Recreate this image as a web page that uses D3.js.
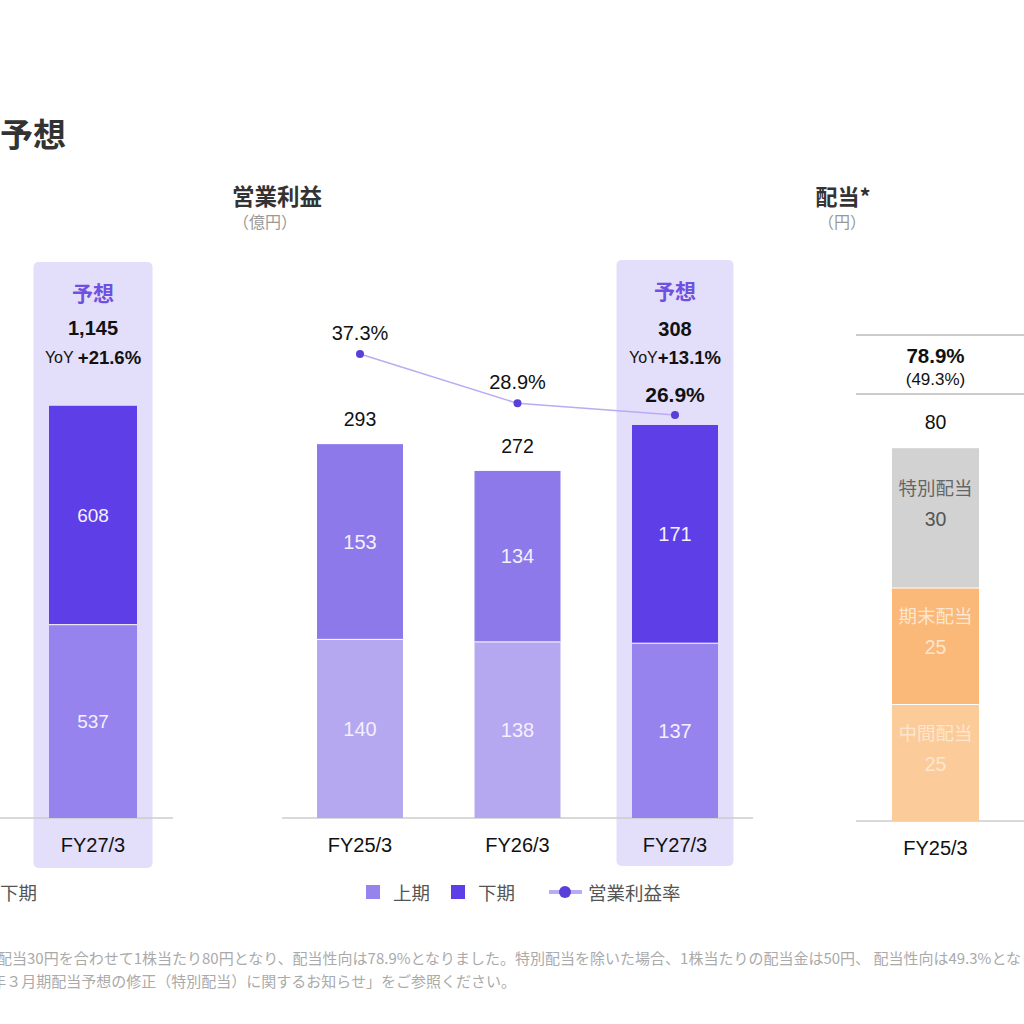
<!DOCTYPE html>
<html>
<head>
<meta charset="utf-8">
<script src="https://cdn.jsdelivr.net/npm/d3@7"></script>
<style>
  html, body { margin: 0; padding: 0; background: #fff; overflow: hidden; }
  svg text { font-family: "Liberation Sans", Arial, "Noto Sans CJK JP", sans-serif; }
  .jp { font-family: "Noto Sans CJK JP", "Noto Sans", sans-serif; }
</style>
</head>
<body>
<div id="chart"></div>
<script>
// ---- data ----
var salesCats = ['FY27/3'];
var salesH1 = [537];
var salesH2 = [608];
var salesTotal = ['1,145'];
var salesYoY = ['+21.6%'];

var opCats = ['FY25/3', 'FY26/3', 'FY27/3'];
var opH1 = [140, 138, 137];
var opH2 = [153, 134, 171];
var opTotal = [293, 272, 308];
var opMargin = [37.3, 28.9, 26.9];
var opForecast = [false, false, true];
var opYoY = '+13.1%';

var divCats = ['FY25/3'];
var divInterim = [25];
var divYearEnd = [25];
var divSpecial = [30];
var divTotal = [80];
var payoutRatio = ['78.9%'];
var payoutExSpecial = ['(49.3%)'];

var footnotes = [
    '特別配当30円を合わせて1株当たり80円となり、配当性向は78.9%となりました。特別配当を除いた場合、1株当たりの配当金は50円、 配当性向は49.3%となりました。',
    '2025年３月期配当予想の修正（特別配当）に関するお知らせ」をご参照ください。'
];

// ---- styles ----
var colors = {
    h1: '#b6a7f1',
    h2: '#8d79e9',
    h1Fc: '#9783ed',
    h2Fc: '#5e3ee6',
    highlight: '#e3defa',
    purpleText: '#6f50e0',
    line: '#b9acf2',
    dot: '#5a3fd8',
    axis: '#cccccc',
    special: '#d2d2d2',
    yearEnd: '#fab879',
    interim: '#fbcb99'
};

var svg = d3.select('#chart')
    .append('svg')
    .attr('width', 1024)
    .attr('height', 1024);

function addText(g, x, y, str, size, opts) {
    opts = opts || {};
    return g.append('text')
        .attr('x', x)
        .attr('y', y)
        .attr('text-anchor', opts.anchor || 'middle')
        .attr('dominant-baseline', 'central')
        .attr('class', opts.jp ? 'jp' : null)
        .style('font-size', size + 'px')
        .style('font-weight', opts.bold ? 'bold' : 'normal')
        .style('fill', opts.color || '#111')
        .text(str);
}

function addYoY(x, y, gap, value) {
    var t = svg.append('text')
        .attr('x', x).attr('y', y)
        .attr('text-anchor', 'middle')
        .attr('dominant-baseline', 'central')
        .style('fill', '#111');
    t.append('tspan').style('font-size', '16px').text(gap ? 'YoY ' : 'YoY');
    t.append('tspan').style('font-size', '18.5px').style('font-weight', 'bold').text(value);
}

function addBaseline(x1, x2, y) {
    svg.append('line')
        .attr('x1', x1).attr('x2', x2)
        .attr('y1', y).attr('y2', y)
        .attr('stroke', colors.axis)
        .attr('stroke-width', 1.5);
}

function addHighlight(xBand, cat, top, bottom) {
    svg.append('rect')
        .attr('x', xBand(cat) - 15.5)
        .attr('y', top)
        .attr('width', xBand.bandwidth() + 31)
        .attr('height', bottom - top)
        .attr('rx', 5)
        .attr('fill', colors.highlight);
}

// page title
addText(svg, 0, 133, '予想', 33, { anchor: 'start', bold: true, jp: true, color: '#333' });

// ---- left panel: sales forecast ----
var salesBase = 818;
var xSales = d3.scaleBand().domain(salesCats).range([49, 137]).padding(0);
var ySales = d3.scaleLinear().domain([0, 1250]).range([salesBase, salesBase - 1250 * 0.36]);

addHighlight(xSales, salesCats[0], 262, 868);
addBaseline(0, 173, salesBase);

salesCats.forEach(function (c, i) {
    var x = xSales(c), w = xSales.bandwidth();
    svg.append('rect')
        .attr('x', x).attr('width', w)
        .attr('y', ySales(salesH1[i])).attr('height', ySales(0) - ySales(salesH1[i]))
        .attr('fill', colors.h1Fc);
    svg.append('rect')
        .attr('x', x).attr('width', w)
        .attr('y', ySales(salesH1[i] + salesH2[i])).attr('height', ySales(salesH1[i]) - ySales(salesH1[i] + salesH2[i]))
        .attr('fill', colors.h2Fc);
    svg.append('line')
        .attr('x1', x).attr('x2', x + w)
        .attr('y1', ySales(salesH1[i])).attr('y2', ySales(salesH1[i]))
        .attr('stroke', '#fff').attr('stroke-width', 1);
    var cx = x + w / 2;
    addText(svg, cx, (ySales(0) + ySales(salesH1[i])) / 2, salesH1[i], 19, { color: '#f3f0ff' });
    addText(svg, cx, (ySales(salesH1[i]) + ySales(salesH1[i] + salesH2[i])) / 2, salesH2[i], 19, { color: '#f3f0ff' });
    addText(svg, cx, 292, '予想', 21, { bold: true, jp: true, color: colors.purpleText });
    addText(svg, cx, 328, salesTotal[i], 20, { bold: true });
    addYoY(cx, 357, true, salesYoY[i]);
    addText(svg, cx, 845, c, 20);
});

addText(svg, 0, 892, '下期', 18.5, { anchor: 'start', jp: true, color: '#555' });

// ---- middle panel: operating profit ----
var opBase = 818;
var xOp = d3.scaleBand().domain(opCats).range([317, 718]).paddingInner(0.454).paddingOuter(0);
var yOp = d3.scaleLinear().domain([0, 350]).range([opBase, opBase - 350 * 1.276]);
var yMargin = d3.scaleLinear().domain([20, 40]).range([455.6, 338.2]);

addText(svg, 277, 195, '営業利益', 22.5, { bold: true, jp: true, color: '#333' });
addText(svg, 265, 221, '（億円）', 16, { jp: true, color: '#999' });

opCats.forEach(function (c, i) {
    if (opForecast[i]) addHighlight(xOp, c, 260, 866);
});
addBaseline(282, 753, opBase);

opCats.forEach(function (c, i) {
    var x = xOp(c), w = xOp.bandwidth(), fc = opForecast[i];
    svg.append('rect')
        .attr('x', x).attr('width', w)
        .attr('y', yOp(opH1[i])).attr('height', yOp(0) - yOp(opH1[i]))
        .attr('fill', fc ? colors.h1Fc : colors.h1);
    svg.append('rect')
        .attr('x', x).attr('width', w)
        .attr('y', yOp(opH1[i] + opH2[i])).attr('height', yOp(opH1[i]) - yOp(opH1[i] + opH2[i]))
        .attr('fill', fc ? colors.h2Fc : colors.h2);
    svg.append('line')
        .attr('x1', x).attr('x2', x + w)
        .attr('y1', yOp(opH1[i])).attr('y2', yOp(opH1[i]))
        .attr('stroke', '#fff').attr('stroke-width', 1);
    var cx = x + w / 2;
    addText(svg, cx, (yOp(0) + yOp(opH1[i])) / 2, opH1[i], 20, { color: '#f3f0ff' });
    addText(svg, cx, (yOp(opH1[i]) + yOp(opH1[i] + opH2[i])) / 2, opH2[i], 20, { color: '#f3f0ff' });
    if (fc) {
        addText(svg, cx, 290, '予想', 21, { bold: true, jp: true, color: colors.purpleText });
        addText(svg, cx, 329, opTotal[i], 20, { bold: true });
        addYoY(cx, 357, false, opYoY);
    } else {
        addText(svg, cx, yOp(opTotal[i]) - 25, opTotal[i], 19.5);
    }
    addText(svg, cx, 845, c, 20);
});

// margin line
var marginLine = d3.line()
    .x(function (d, i) { return xOp(opCats[i]) + xOp.bandwidth() / 2; })
    .y(function (d) { return yMargin(d); });

svg.append('path')
    .datum(opMargin)
    .attr('d', marginLine)
    .attr('fill', 'none')
    .attr('stroke', colors.line)
    .attr('stroke-width', 1.5);

opMargin.forEach(function (m, i) {
    var cx = xOp(opCats[i]) + xOp.bandwidth() / 2;
    svg.append('circle')
        .attr('cx', cx).attr('cy', yMargin(m))
        .attr('r', 4)
        .attr('fill', colors.dot);
    addText(svg, cx, yMargin(m) - 21, m.toFixed(1) + '%', opForecast[i] ? 21 : 20, { bold: opForecast[i] });
});

// legend
var legend = svg.append('g');
legend.append('rect').attr('x', 366).attr('y', 885).attr('width', 14).attr('height', 14).attr('fill', colors.h1Fc);
addText(legend, 393, 892, '上期', 18.5, { anchor: 'start', jp: true, color: '#555' });
legend.append('rect').attr('x', 451).attr('y', 885).attr('width', 14).attr('height', 14).attr('fill', colors.h2Fc);
addText(legend, 478, 892, '下期', 18.5, { anchor: 'start', jp: true, color: '#555' });
legend.append('line').attr('x1', 549).attr('x2', 582).attr('y1', 892).attr('y2', 892)
    .attr('stroke', colors.line).attr('stroke-width', 4);
legend.append('circle').attr('cx', 565).attr('cy', 892).attr('r', 6).attr('fill', colors.dot);
addText(legend, 588, 892, '営業利益率', 18.5, { anchor: 'start', jp: true, color: '#555' });

// ---- right panel: dividend ----
var divBase = 821;
var xDiv = d3.scaleBand().domain(divCats).range([892, 979]).padding(0);
var yDiv = d3.scaleLinear().domain([0, 100]).range([divBase, divBase - 100 * 4.66]);

addText(svg, 843, 195, '配当*', 22, { bold: true, jp: true, color: '#333' });
addText(svg, 842, 221, '（円）', 16, { jp: true, color: '#999' });

svg.append('line').attr('x1', 856).attr('x2', 1024).attr('y1', 335).attr('y2', 335)
    .attr('stroke', '#bbb').attr('stroke-width', 1.5);
svg.append('line').attr('x1', 856).attr('x2', 1024).attr('y1', 394).attr('y2', 394)
    .attr('stroke', '#bbb').attr('stroke-width', 1.5);

addBaseline(856, 1024, divBase);

divCats.forEach(function (c, i) {
    var x = xDiv(c), w = xDiv.bandwidth(), cx = x + w / 2;
    var segs = [
        { v: divInterim[i], name: '中間配当', fill: colors.interim, text: '#fde6cf', num: '#fde6cf' },
        { v: divYearEnd[i], name: '期末配当', fill: colors.yearEnd, text: '#fde6cf', num: '#fde6cf' },
        { v: divSpecial[i], name: '特別配当', fill: colors.special, text: '#666', num: '#555' }
    ];
    var acc = 0;
    segs.forEach(function (s) {
        var y0 = yDiv(acc), y1 = yDiv(acc + s.v), mid = (y0 + y1) / 2;
        svg.append('rect')
            .attr('x', x).attr('width', w)
            .attr('y', y1).attr('height', y0 - y1)
            .attr('fill', s.fill);
        if (acc > 0) {
            svg.append('line')
                .attr('x1', x).attr('x2', x + w)
                .attr('y1', y0).attr('y2', y0)
                .attr('stroke', '#fff').attr('stroke-width', 1);
        }
        addText(svg, cx, mid - 31, s.name, 18.5, { jp: true, color: s.text });
        addText(svg, cx, mid + 1, s.v, 19.5, { color: s.num });
        acc += s.v;
    });
    addText(svg, cx, yDiv(divTotal[i]) - 26, divTotal[i], 19.5);
    addText(svg, cx, 355, payoutRatio[i], 20.5, { bold: true });
    addText(svg, cx, 379, payoutExSpecial[i], 17);
    addText(svg, cx, 848, c, 20);
});

// ---- footnotes ----
addText(svg, -33, 957, footnotes[0], 15, { anchor: 'start', jp: true, color: '#aaa' });
addText(svg, 516, 980, footnotes[1], 15, { anchor: 'end', jp: true, color: '#aaa' });
</script>
</body>
</html>
